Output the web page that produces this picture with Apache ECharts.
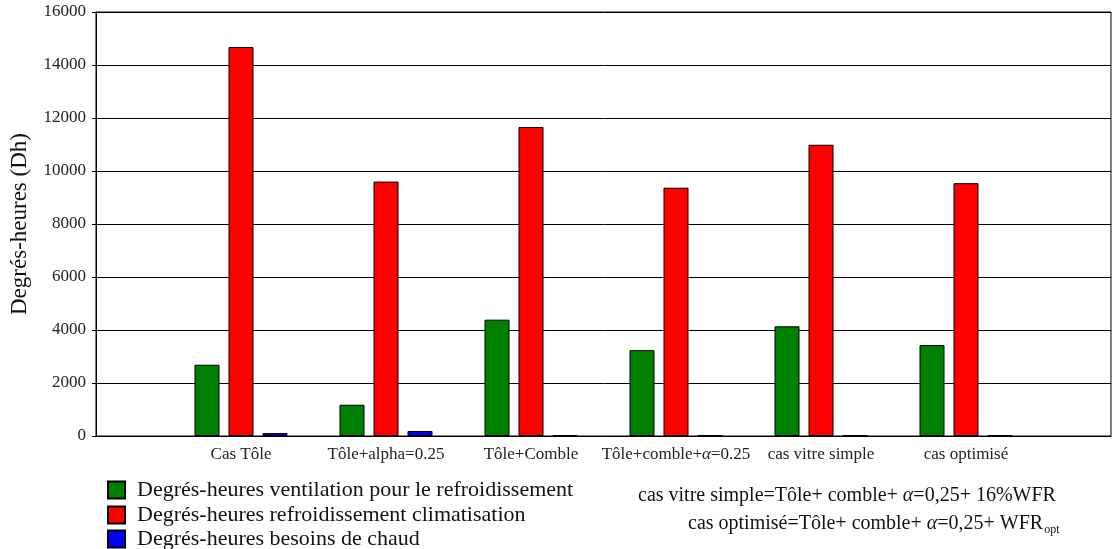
<!DOCTYPE html>
<html>
<head>
<meta charset="utf-8">
<script src="https://cdn.jsdelivr.net/npm/echarts@6/dist/echarts.min.js"></script>
<style>
  html, body { margin: 0; padding: 0; background: #fff; }
  #chart { width: 1114px; height: 549px; }
</style>
</head>
<body>
<div id="chart"></div>
<script>
  var categories = ['Cas Tôle', 'Tôle+alpha=0.25', 'Tôle+Comble', 'Tôle+comble+{i|α}=0.25', 'cas vitre simple', 'cas optimisé'];
  var ventilation = [2690, 1180, 4390, 3240, 4140, 3430];
  var climatisation = [14680, 9600, 11660, 9370, 10990, 9540];
  var chaud = [110, 190, 20, 20, 20, 20];
  var seriesNames = [
    'Degrés-heures ventilation pour le refroidissement',
    'Degrés-heures refroidissement climatisation',
    'Degrés-heures besoins de chaud'
  ];
  var yTicks = { min: 0, max: 16000, interval: 2000 };

  var font = '"Liberation Serif", "DejaVu Serif", serif';

  // pad with an empty slot at each end so the groups sit on the axis ticks
  function pad(arr, empty) {
    return [empty].concat(arr, [empty]);
  }

  var chart = echarts.init(document.getElementById('chart'));

  function barSeries(name, data, color) {
    return {
      name: name,
      type: 'bar',
      data: pad(data, '-'),
      barWidth: 25,
      barGap: '36%',
      itemStyle: { color: color, borderColor: '#000', borderWidth: 1 }
    };
  }

  // one legend per row, stacked like the original
  function legendRow(name, top) {
    return {
      left: 107, top: top, padding: 0,
      itemWidth: 17, itemHeight: 17, itemGap: 0,
      icon: 'rect',
      textStyle: { fontFamily: font, fontSize: 22, color: '#111', padding: [0, 0, 0, 7] },
      data: [name]
    };
  }

  var option = {
    animation: false,
    textStyle: { fontFamily: font },
    grid: {
      left: 95, right: 3, top: 12, bottom: 113,
      show: true, borderColor: '#000', borderWidth: 1
    },
    legend: [
      legendRow(seriesNames[0], 479),
      legendRow(seriesNames[1], 504),
      legendRow(seriesNames[2], 528)
    ],
    xAxis: {
      type: 'category',
      boundaryGap: false,
      data: pad(categories, ''),
      axisLine: { lineStyle: { color: '#000', width: 1 } },
      axisTick: { show: false },
      axisLabel: {
        interval: 0, margin: 10, fontSize: 17, color: '#222', fontFamily: font,
        rich: { i: { fontStyle: 'italic', fontSize: 17, fontFamily: font, color: '#222' } }
      },
      splitLine: { show: false }
    },
    yAxis: {
      type: 'value',
      min: yTicks.min, max: yTicks.max, interval: yTicks.interval,
      name: 'Degrés-heures (Dh)',
      nameLocation: 'middle',
      nameGap: 65,
      nameTextStyle: { fontSize: 23, color: '#111', fontFamily: font },
      axisLine: { show: true, lineStyle: { color: '#000' } },
      axisTick: { show: true, length: 4, lineStyle: { color: '#000' } },
      axisLabel: {
        fontSize: 17, color: '#222', margin: 10, fontFamily: font,
        formatter: function (v) { return String(v); }
      },
      splitLine: { lineStyle: { color: '#000', width: 1 } }
    },
    series: [
      barSeries(seriesNames[0], ventilation, '#008000'),
      barSeries(seriesNames[1], climatisation, '#ff0000'),
      barSeries(seriesNames[2], chaud, '#0000ff')
    ],
    graphic: [
      {
        type: 'text', left: 638, top: 486,
        style: {
          text: 'cas vitre simple=Tôle+ comble+ {i|α}=0,25+ 16%WFR',
          font: '20px ' + font, fill: '#111',
          rich: { i: { fontStyle: 'italic', fontSize: 20, fontFamily: font } }
        }
      },
      {
        type: 'text', left: 688, top: 514,
        style: {
          text: 'cas optimisé=Tôle+ comble+ {i|α}=0,25+ WFR{s|opt}',
          font: '20px ' + font, fill: '#111',
          rich: {
            i: { fontStyle: 'italic', fontSize: 20, fontFamily: font },
            s: { fontSize: 12, fontFamily: font, padding: [12, 0, 0, 1] }
          }
        }
      }
    ]
  };

  chart.setOption(option);
</script>
</body>
</html>
